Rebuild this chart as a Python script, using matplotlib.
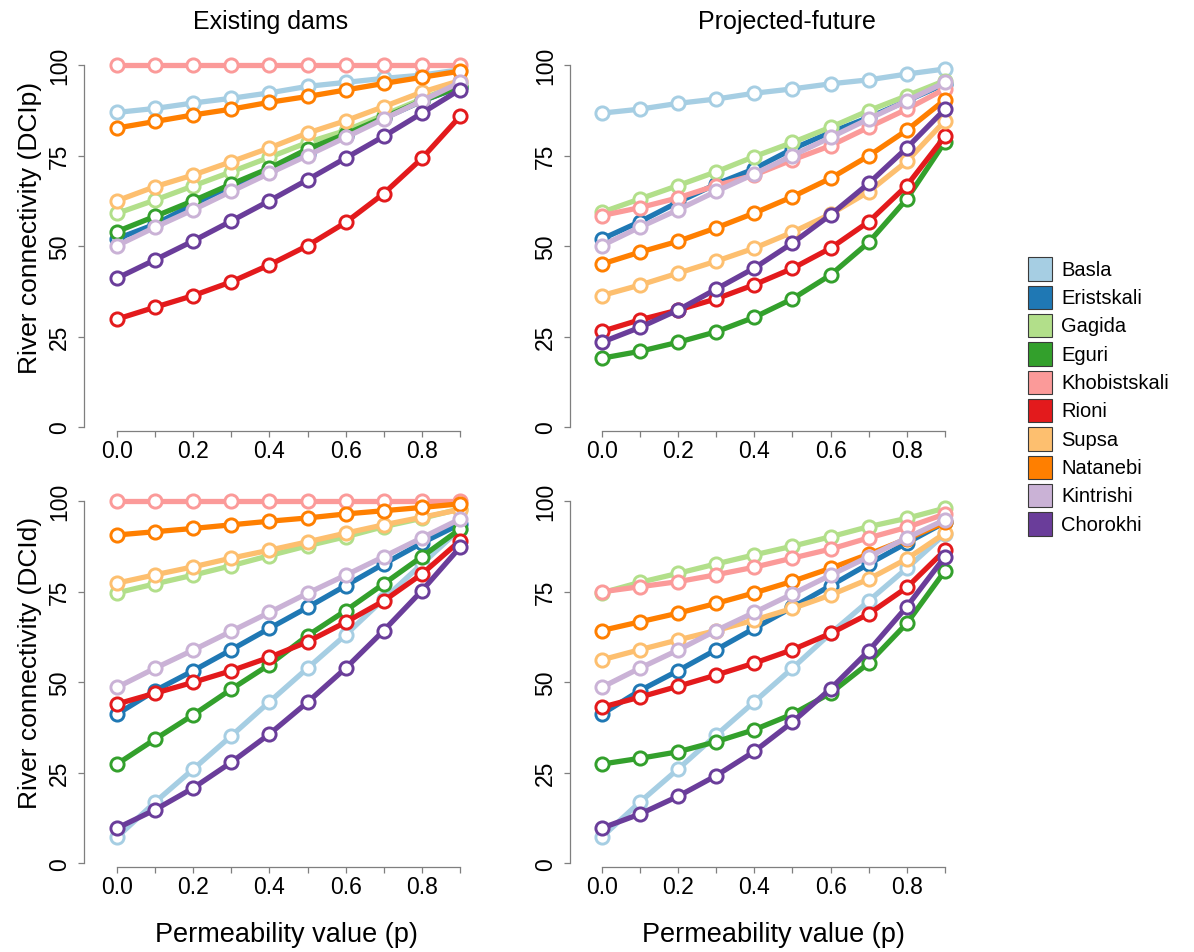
import matplotlib
matplotlib.use("Agg")
import matplotlib.pyplot as plt
from matplotlib.patches import Rectangle

plt.rcParams["font.family"] = ["Liberation Sans", "DejaVu Sans"]

W, H = 1194, 953

P = [0.0, 0.1, 0.2, 0.3, 0.4, 0.5, 0.6, 0.7, 0.8, 0.9]
RIVERS = ["Basla", "Eristskali", "Gagida", "Eguri", "Khobistskali",
          "Rioni", "Supsa", "Natanebi", "Kintrishi", "Chorokhi"]
COLORS = ["#A6CEE3", "#1F78B4", "#B2DF8A", "#33A02C", "#FB9A99",
          "#E31A1C", "#FDBF6F", "#FF7F00", "#CAB2D6", "#6A3D9A"]

# DCIp, existing dams (rows in RIVERS order)
DCIP_EXISTING = [
    [86.9, 88.0, 89.5, 90.8, 92.3, 94.1, 95.2, 96.3, 97.2, 98.7],
    [52.0, 56.0, 61.5, 66.5, 71.0, 75.5, 80.5, 85.3, 90.0, 94.0],
    [59.0, 62.7, 66.6, 70.5, 74.5, 78.6, 81.9, 86.2, 90.6, 94.8],
    [54.0, 58.2, 62.5, 67.1, 71.5, 76.8, 80.9, 85.5, 90.1, 94.0],
    [100, 100, 100, 100, 100, 100, 100, 100, 100, 100],
    [29.8, 33.1, 36.3, 40.1, 44.8, 50.1, 56.5, 64.5, 74.2, 85.8],
    [62.5, 66.4, 69.6, 73.3, 77.1, 81.2, 84.6, 88.5, 92.5, 95.7],
    [82.6, 84.4, 86.2, 87.8, 89.7, 91.3, 93.1, 94.9, 96.6, 98.3],
    [50.1, 55.2, 60.0, 65.1, 70.1, 75.0, 80.0, 85.1, 90.1, 95.2],
    [41.1, 46.2, 51.4, 56.9, 62.5, 68.3, 74.3, 80.3, 86.7, 93.2],
]

# DCIp, projected-future
DCIP_FUTURE = [
    [86.7, 87.8, 89.4, 90.6, 92.2, 93.4, 94.8, 95.9, 97.5, 98.9],
    [51.9, 56.7, 62.1, 67.1, 71.3, 76.8, 81.4, 85.5, 90.1, 94.8],
    [59.3, 63.0, 66.7, 70.5, 74.7, 78.6, 82.8, 87.4, 91.5, 95.7],
    [19.0, 20.9, 23.4, 26.3, 30.3, 35.4, 42.0, 51.0, 63.0, 78.8],
    [58.4, 60.6, 63.3, 66.7, 69.6, 73.8, 77.7, 82.8, 87.8, 93.4],
    [26.4, 29.6, 32.3, 35.4, 39.3, 43.8, 49.4, 56.7, 66.7, 80.3],
    [36.3, 39.2, 42.5, 45.8, 49.4, 53.8, 58.8, 65.0, 73.4, 84.6],
    [45.0, 48.3, 51.3, 55.0, 59.1, 63.6, 68.7, 74.9, 82.0, 90.4],
    [50.1, 55.2, 60.0, 65.1, 69.9, 75.0, 80.0, 85.1, 90.1, 95.2],
    [23.4, 27.5, 32.3, 38.1, 43.9, 50.8, 58.6, 67.3, 77.1, 87.8],
]

# DCId, existing dams
DCID_EXISTING = [
    [7.2, 16.9, 26.0, 35.2, 44.6, 53.9, 63.1, 73.0, 82.7, 92.3],
    [41.2, 47.7, 53.2, 59.0, 64.9, 70.7, 76.7, 82.7, 88.5, 93.7],
    [74.7, 77.2, 79.6, 82.2, 85.0, 87.7, 90.2, 93.0, 95.3, 97.9],
    [27.4, 34.3, 41.0, 48.1, 54.9, 62.9, 69.8, 77.2, 84.7, 92.3],
    [100, 100, 100, 100, 100, 100, 100, 100, 100, 100],
    [44.0, 47.0, 50.0, 53.2, 56.9, 61.2, 66.6, 72.5, 79.9, 89.1],
    [77.4, 79.7, 81.9, 84.3, 86.5, 88.8, 91.2, 93.5, 95.6, 97.7],
    [90.7, 91.6, 92.5, 93.5, 94.5, 95.4, 96.5, 97.4, 98.3, 99.3],
    [48.6, 53.9, 58.9, 64.1, 69.3, 74.6, 79.6, 84.7, 89.9, 95.1],
    [9.7, 14.8, 20.8, 27.9, 35.7, 44.5, 53.9, 64.3, 75.3, 87.3],
]

# DCId, projected-future
DCID_FUTURE = [
    [7.2, 16.9, 26.0, 35.4, 44.6, 53.9, 63.5, 72.5, 81.5, 91.0],
    [41.2, 47.7, 53.2, 59.0, 64.9, 70.7, 76.7, 82.7, 88.5, 94.2],
    [74.7, 77.6, 80.1, 82.7, 85.2, 87.6, 90.2, 93.0, 95.3, 98.1],
    [27.4, 29.0, 30.8, 33.6, 36.9, 41.2, 47.0, 55.3, 66.3, 80.8],
    [75.0, 76.4, 77.8, 79.7, 81.8, 84.3, 86.8, 89.9, 92.8, 96.5],
    [43.1, 45.9, 48.9, 52.0, 55.3, 59.0, 63.5, 68.9, 76.2, 86.5],
    [56.2, 59.0, 61.7, 64.3, 67.2, 70.4, 74.1, 78.5, 84.1, 91.2],
    [64.3, 66.7, 69.1, 71.8, 74.7, 77.9, 81.5, 85.4, 89.6, 94.2],
    [48.6, 53.9, 58.9, 64.3, 69.3, 74.4, 79.6, 84.7, 89.9, 94.9],
    [9.7, 13.6, 18.5, 24.2, 30.9, 39.0, 48.2, 58.7, 70.9, 84.7],
]

XTICKS = [0.0, 0.1, 0.2, 0.3, 0.4, 0.5, 0.6, 0.7, 0.8, 0.9]
XTICKLABELS = ["0.0", "", "0.2", "", "0.4", "", "0.6", "", "0.8", ""]
YTICKS = [0, 25, 50, 75, 100]

AXIS_GREY = "#7f7f7f"


def make_panel(fig, data, x0, x9, y0, y100, sx, sy):
    """pixel anchors: x0/x9 = where p=0/0.9 sit, y0/y100 = where 0/100 sit,
    sx/sy = position of the detached left / bottom axis lines."""
    right, top = x9 + 14, y100 - 14
    ax = fig.add_axes([sx / W, 1 - sy / H, (right - sx) / W, (sy - top) / H])
    ux = (x9 - x0) / 0.9
    uy = (y0 - y100) / 100.0
    ax.set_xlim((sx - x0) / ux, 0.9 + (right - x9) / ux)
    ax.set_ylim(-(sy - y0) / uy, 100 + (y100 - top) / uy)

    for vals, col in zip(data, COLORS):
        ax.plot(P, vals, color=col, lw=3.8, marker="o", ms=9.5,
                mfc="white", mec=col, mew=2.1, clip_on=False,
                solid_joinstyle="round")

    for s in ("top", "right"):
        ax.spines[s].set_visible(False)
    ax.spines["left"].set_bounds(0, 100)
    ax.spines["bottom"].set_bounds(0, 0.9)
    for s in ("left", "bottom"):
        ax.spines[s].set_color(AXIS_GREY)
        ax.spines[s].set_linewidth(0.9)
    ax.set_xticks(XTICKS)
    ax.set_xticklabels(XTICKLABELS)
    ax.set_yticks(YTICKS)
    ax.set_yticklabels([str(v) for v in YTICKS], rotation=90, va="center")
    ax.tick_params(colors=AXIS_GREY, labelcolor="black", labelsize=16.5,
                   length=4.5, width=0.9)
    ax.tick_params(axis="x", pad=1.5)
    ax.tick_params(axis="y", pad=5)
    ax.patch.set_visible(False)
    return ax


fig = plt.figure(figsize=(W / 100, H / 100), dpi=100)

make_panel(fig, DCIP_EXISTING, 117, 460, 428, 66, 84, 432)
make_panel(fig, DCIP_FUTURE, 601.7, 945, 428, 66, 570, 432)
make_panel(fig, DCID_EXISTING, 117, 460, 864.3, 502.3, 84, 868)
make_panel(fig, DCID_FUTURE, 601.7, 945, 864.3, 502.3, 570, 868)


def ftext(x, y, s, **kw):
    fig.text(x / W, 1 - y / H, s, ha="center", va="center", **kw)


ftext(271, 22, "Existing dams", fontsize=18)
ftext(787, 22, "Projected-future", fontsize=18)
ftext(30, 228, "River connectivity (DCIp)", fontsize=19, rotation=90)
ftext(30, 663, "River connectivity (DCId)", fontsize=19, rotation=90)
ftext(286, 935, "Permeability value (p)", fontsize=19.5)
ftext(773, 935, "Permeability value (p)", fontsize=19.5)

# legend: filled squares with dark outline
for i, (name, col) in enumerate(zip(RIVERS, COLORS)):
    top = 258.3 + i * 28.33
    fig.add_artist(Rectangle((1027.5 / W, 1 - (top + 23.3) / H), 24.3 / W, 23.3 / H,
                             transform=fig.transFigure, facecolor=col,
                             edgecolor="#3a3a3a", linewidth=0.8))
    fig.text(1061.5 / W, 1 - (top + 11.9) / H, name, ha="left", va="center",
             fontsize=14.5)

fig.savefig("out.png", dpi=100)
